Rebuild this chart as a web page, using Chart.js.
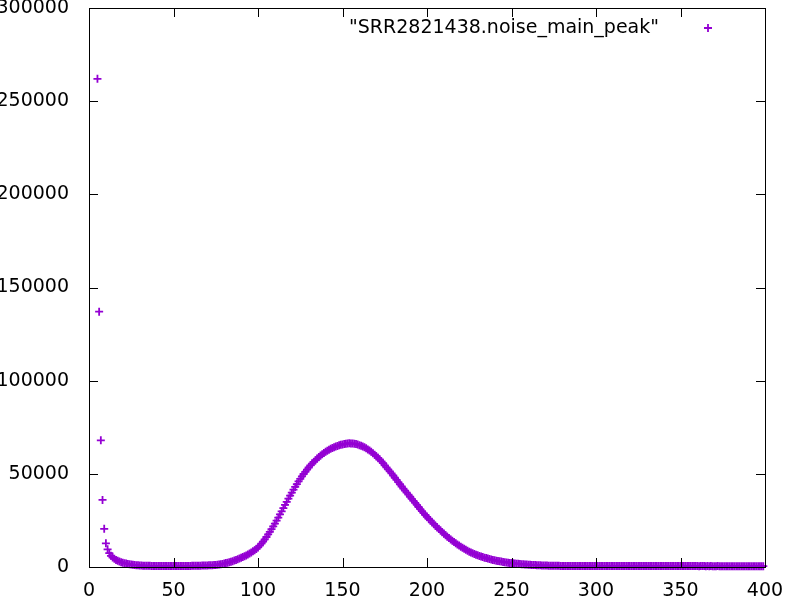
<!DOCTYPE html>
<html>
<head>
<meta charset="utf-8">
<script src="https://cdn.jsdelivr.net/npm/chart.js@4.4.1/dist/chart.umd.min.js"></script>
<style>
  body { margin: 0; background: #fff; }
  #wrap { width: 787px; height: 596px; }
</style>
</head>
<body>
<div id="wrap"><canvas id="myChart" width="787" height="596"></canvas></div>
<script>
const seriesName = '"SRR2821438.noise_main_peak"';
const firstCoverage = 5;
// counts, one per coverage value starting at firstCoverage
const counts = [
  262000, 137000, 68000, 36000, 20500, 12700, 9500, 7400, 6000, 5100,
  4400, 3800, 3300, 2900, 2600, 2300, 2050, 1850, 1650, 1480,
  1320, 1180, 1060, 960, 880, 810, 760, 720, 690, 660,
  640, 610, 600, 590, 570, 570, 560, 550, 560, 540,
  540, 550, 530, 540, 530, 520, 540, 530, 540, 550,
  560, 550, 570, 570, 590, 600, 610, 630, 650, 680,
  700, 720, 750, 780, 810, 850, 890, 940, 990, 1040,
  1100, 1200, 1330, 1480, 1660, 1860, 2080, 2320, 2580, 2850,
  3140, 3450, 3780, 4130, 4500, 4900, 5320, 5760, 6230, 6730,
  7200, 7800, 8400, 9000, 9700, 10500, 11500, 12500, 13600, 14800,
  16100, 17500, 18900, 20300, 21800, 23300, 24900, 26500, 28200, 29900,
  31600, 33300, 35000, 36700, 38300, 39900, 41500, 43000, 44500, 45900,
  47300, 48600, 49900, 51100, 52300, 53400, 54500, 55500, 56400, 57300,
  58200, 59000, 59800, 60500, 61200, 61800, 62400, 62900, 63400, 63900,
  64300, 64700, 65000, 65300, 65600, 65800, 66000, 66100, 66300, 66400,
  66300, 66300, 66100, 66000, 65700, 65400, 65100, 64700, 64200, 63700,
  63100, 62500, 61800, 61100, 60300, 59500, 58600, 57700, 56700, 55700,
  54500, 53500, 52400, 51300, 50200, 49100, 47900, 46800, 45600, 44400,
  43200, 42100, 41000, 39900, 38800, 37700, 36600, 35500, 34400, 33300,
  32200, 31100, 30000, 28900, 27900, 26900, 25900, 25000, 24000, 23100,
  22200, 21300, 20400, 19600, 18700, 17900, 17100, 16300, 15500, 14800,
  14100, 13400, 12700, 12100, 11500, 10900, 10300, 9800, 9200, 8700,
  8200, 7800, 7400, 7000, 6600, 6300, 5900, 5600, 5300, 5000,
  4800, 4500, 4300, 4000, 3800, 3600, 3400, 3200, 3050, 2900,
  2750, 2600, 2450, 2330, 2200, 2090, 1980, 1880, 1780, 1690,
  1600, 1520, 1440, 1370, 1300, 1240, 1180, 1120, 1070, 1020,
  970, 930, 890, 850, 810, 780, 750, 720, 700, 680,
  660, 640, 620, 610, 600, 590, 580, 570, 570, 560,
  560, 550, 560, 550, 540, 550, 540, 550, 540, 530,
  540, 530, 540, 530, 520, 530, 540, 530, 520, 530,
  520, 530, 520, 530, 520, 510, 520, 530, 520, 510,
  520, 510, 520, 510, 520, 510, 500, 510, 520, 510,
  500, 510, 500, 510, 500, 510, 500, 490, 500, 510,
  500, 490, 500, 490, 500, 490, 500, 490, 480, 490,
  500, 490, 480, 490, 480, 490, 480, 470, 480, 490,
  480, 470, 480, 470, 480, 470, 460, 470, 480, 470,
  460, 470, 460, 470, 460, 450, 460, 470, 460, 450,
  460, 450, 460, 450, 440, 450, 460, 450, 440, 450,
  440, 450, 440, 430, 440, 450, 440, 430, 440, 430,
  440, 430, 420, 430, 420
];
const xTicks = [0, 50, 100, 150, 200, 250, 300, 350, 400];
const yTicks = [0, 50000, 100000, 150000, 200000, 250000, 300000];

const purple = "#9400d3";
const points = counts.map((c, i) => ({ x: firstCoverage + i, y: c }));

// gnuplot style: ticks pointing inward on all four sides, plus the key
const gnuplotFrame = {
  id: "gnuplotFrame",
  afterDraw(chart) {
    const { ctx, chartArea: a, scales } = chart;
    const len = 9;
    ctx.save();
    ctx.strokeStyle = "#000";
    ctx.lineWidth = 1;
    ctx.strokeRect(a.left + 0.5, a.top + 0.5, a.right - a.left, a.bottom - a.top);
    ctx.beginPath();
    xTicks.forEach((v) => {
      const px = Math.round(scales.x.getPixelForValue(v)) + 0.5;
      ctx.moveTo(px, a.bottom); ctx.lineTo(px, a.bottom - len);
      ctx.moveTo(px, a.top); ctx.lineTo(px, a.top + len);
    });
    yTicks.forEach((v) => {
      const py = Math.round(scales.y.getPixelForValue(v)) + 0.5;
      ctx.moveTo(a.left, py); ctx.lineTo(a.left + len, py);
      ctx.moveTo(a.right, py); ctx.lineTo(a.right - len, py);
    });
    ctx.stroke();

    // key
    ctx.fillStyle = "#000";
    ctx.font = "19px 'DejaVu Sans'";
    ctx.textAlign = "right";
    ctx.textBaseline = "middle";
    ctx.fillText(chart.data.datasets[0].label, 659, 28);
    ctx.strokeStyle = purple;
    ctx.lineWidth = 1.8;
    ctx.beginPath();
    ctx.moveTo(704, 28); ctx.lineTo(712, 28);
    ctx.moveTo(708, 24); ctx.lineTo(708, 32);
    ctx.stroke();
    ctx.restore();
  },
};

new Chart(document.getElementById("myChart"), {
  type: "scatter",
  data: {
    datasets: [
      {
        label: seriesName,
        data: points,
        pointStyle: "cross",
        pointRadius: 4,
        pointHoverRadius: 4,
        borderColor: purple,
        backgroundColor: purple,
        pointBorderWidth: 1.8,
        clip: false,
      },
    ],
  },
  options: {
    responsive: false,
    animation: false,
    events: [],
    layout: { padding: { top: 8, right: 22, left: 0, bottom: 0 } },
    plugins: { legend: false, tooltip: { enabled: false } },
    scales: {
      x: {
        type: "linear",
        min: 0,
        max: 400,
        afterBuildTicks: (s) => { s.ticks = xTicks.map((v) => ({ value: v })); },
        afterFit: (s) => { s.height = 29; s.paddingLeft = 0; s.paddingRight = 0; },
        grid: { display: false },
        border: { display: false },
        ticks: { color: "#000", padding: 5, maxRotation: 0, font: { family: "DejaVu Sans", size: 19 } },
      },
      y: {
        min: 0,
        max: 300000,
        afterBuildTicks: (s) => { s.ticks = yTicks.map((v) => ({ value: v })); },
        afterFit: (s) => { s.width = 89; s.paddingTop = 0; s.paddingBottom = 0; },
        grid: { display: false },
        border: { display: false },
        ticks: {
          color: "#000",
          padding: 12,
          font: { family: "DejaVu Sans", size: 19 },
          callback: (value) => String(value),
        },
      },
    },
  },
  plugins: [gnuplotFrame],
});
</script>
</body>
</html>
